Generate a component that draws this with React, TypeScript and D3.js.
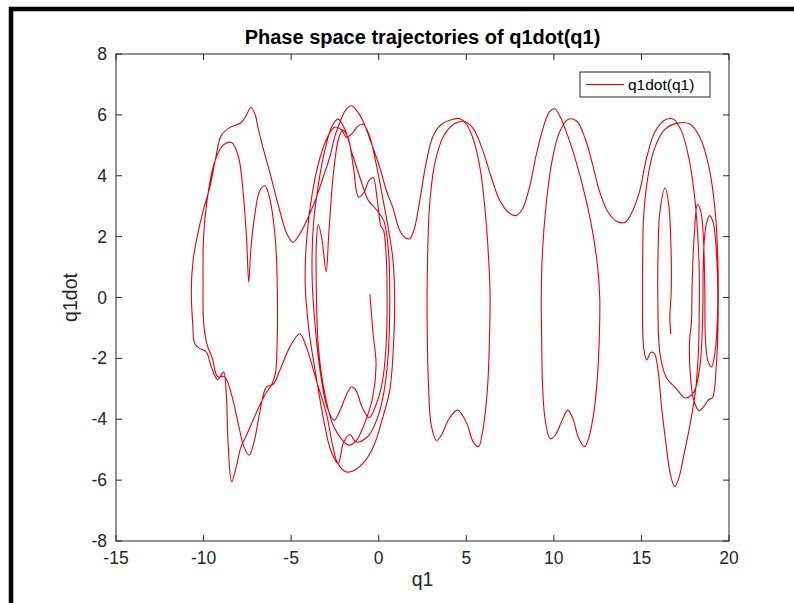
import React from 'react';
import * as d3 from 'd3';

const xTicks = [-15, -10, -5, 0, 5, 10, 15, 20];
const yTicks = [-8, -6, -4, -2, 0, 2, 4, 6, 8];
const seriesName = 'q1dot(q1)';
const chartTitle = 'Phase space trajectories of q1dot(q1)';
const xLabel = 'q1';
const yLabel = 'q1dot';

// trajectory pieces, [q1, q1dot], in time order
const clusterWell: number[][] = [
  [-0.5, 0.1], [-0.32, -1.2], [-0.15, -2.2], [-0.35, -3.3], [-0.85, -4.2], [-1.28, -4.7], [-1.7, -4.85], [-2.05, -4.7],
  [-2.6, -4.2], [-3.1, -3.1], [-3.45, -1.6], [-3.56, 0.2], [-3.56, 1.8], [-3.45, 2.4], [-3.25, 1.95], [-3.0, 0.85],
  [-2.85, 2.1], [-2.6, 4.0], [-2.3, 5.2], [-2.05, 5.5], [-1.75, 5.25], [-1.45, 4.3], [-1.15, 3.3], [-0.85, 3.45],
  [-0.55, 3.85], [-0.32, 3.94], [-0.08, 3.2], [0.12, 2.35], [0.28, 2.2], [0.42, 1.4], [0.48, 0], [0.42, -1.6],
  [0.2, -2.8], [-0.2, -3.6], [-0.55, -3.95], [-0.95, -3.6], [-1.3, -3.05], [-1.56, -2.94], [-1.85, -3.2], [-2.2, -3.7],
  [-2.55, -4.03], [-2.95, -3.6], [-3.3, -2.6], [-3.62, -1.0], [-3.8, 0.6], [-3.74, 2.3], [-3.45, 3.7], [-3.05, 4.9],
  [-2.65, 5.65], [-2.32, 5.86], [-1.95, 5.55], [-1.5, 4.7], [-1.05, 3.9], [-0.6, 3.2], [-0.15, 2.9], [0.3, 2.5],
  [0.56, 1.5], [0.63, 0], [0.55, -1.8], [0.3, -3.1], [-0.1, -4.0], [-0.6, -4.55], [-1.28, -4.75], [-1.65, -4.5],
  [-2.0, -4.75], [-2.32, -5.45], [-2.75, -5.0], [-3.15, -4.0], [-3.6, -2.5], [-4.0, -1.0], [-4.2, 0.5], [-4.1, 2.0],
  [-3.8, 3.4], [-3.35, 4.6], [-2.9, 5.3], [-2.5, 5.6], [-2.12, 5.51], [-1.84, 5.26], [-1.5, 5.4], [-1.2, 5.62],
  [-0.9, 5.7], [-0.55, 5.35], [-0.15, 4.4], [0.25, 3.2], [0.6, 2.1], [0.82, 1.2], [0.91, 0], [0.85, -1.5],
  [0.63, -3.05], [0.2, -4.0], [-0.3, -4.9], [-0.9, -5.45], [-1.4, -5.68], [-1.84, -5.73], [-2.34, -5.45], [-2.65, -4.8],
];

const leftWell: number[][] = [
  [-2.99, -3.81], [-3.56, -2.72], [-4.13, -1.63], [-4.51, -1.19], [-5.08, -1.63], [-5.65, -2.4], [-6.03, -2.85],
  [-6.41, -2.94], [-6.8, -3.8], [-7.1, -4.7], [-7.4, -5.18], [-7.7, -4.9], [-8.0, -4.2], [-8.4, -3.2], [-8.8, -2.6],
  [-9.2, -2.6], [-9.5, -2.0], [-9.8, -1.55], [-10.0, -0.8], [-10.03, 0.5], [-10.0, 2.0], [-9.8, 3.2], [-9.4, 4.4],
  [-8.9, 5.0], [-8.4, 5.09], [-8.0, 4.6], [-7.75, 3.5], [-7.55, 2.0], [-7.42, 0.5], [-7.3, 1.6], [-7.08, 2.7],
  [-6.8, 3.5], [-6.5, 3.67], [-6.2, 3.2], [-5.95, 2.2], [-5.84, 1.32], [-5.78, -0.3], [-5.8, -1.5], [-5.9, -2.5],
  [-6.1, -2.85], [-6.5, -3.2], [-7.0, -3.8], [-7.5, -4.46], [-7.86, -4.9], [-8.15, -5.6], [-8.4, -6.05], [-8.6, -4.8],
  [-8.7, -3.2], [-8.85, -2.45], [-9.0, -2.55], [-9.2, -2.7], [-9.56, -2.28], [-9.84, -1.79], [-10.2, -1.68],
  [-10.5, -1.52], [-10.62, -0.86], [-10.7, 0.3], [-10.6, 1.2], [-10.4, 1.9], [-10.0, 2.9], [-9.65, 3.6], [-9.3, 4.6],
  [-9.0, 5.31], [-8.51, 5.58], [-7.85, 5.75], [-7.55, 6.0], [-7.3, 6.24], [-7.05, 6.0], [-6.9, 5.6], [-6.55, 4.8],
  [-6.2, 4.07], [-5.65, 2.85], [-5.25, 2.1], [-4.9, 1.81],
];

const rotationPass: number[][] = [
  [-4.55, 2.05], [-4.3, 2.3], [-3.9, 2.8], [-3.56, 3.29], [-3.2, 3.9], [-2.8, 4.6], [-2.5, 5.3], [-2.22, 5.75],
  [-1.9, 6.15], [-1.56, 6.3], [-1.2, 6.1], [-0.9, 5.8], [-0.5, 5.2], [0.06, 4.27], [0.45, 3.5], [0.8, 2.96],
  [1.2, 2.2], [1.5, 1.97], [1.77, 1.93],
];

const well5: number[][] = [
  [2.05, 2.3], [2.35, 3.2], [2.7, 4.4], [3.1, 5.3], [3.6, 5.7], [4.2, 5.85], [4.6, 5.88], [5.0, 5.7], [5.4, 5.2],
  [5.8, 4.2], [6.1, 2.7], [6.3, 1.0], [6.36, 0], [6.33, -1.2], [6.25, -2.6], [6.1, -3.7], [5.9, -4.5], [5.7, -4.9],
  [5.4, -4.75], [5.0, -4.1], [4.5, -3.7], [4.0, -4.0], [3.6, -4.5], [3.3, -4.7], [3.0, -4.2], [2.85, -3.0],
  [2.78, -1.5], [2.76, 0], [2.8, 1.5], [2.9, 3.0], [3.2, 4.4], [3.7, 5.3], [4.3, 5.7], [4.9, 5.78], [5.4, 5.55],
  [5.9, 4.9], [6.4, 4.0], [6.9, 3.2], [7.4, 2.8], [7.82, 2.69],
];

const well10: number[][] = [
  [8.2, 2.9], [8.6, 3.6], [9.0, 4.7], [9.4, 5.6], [9.75, 6.1], [10.05, 6.2], [10.35, 5.95], [10.8, 5.3], [11.3, 4.4],
  [11.8, 3.3], [12.2, 2.2], [12.5, 1.0], [12.62, 0], [12.6, -1.2], [12.5, -2.5], [12.3, -3.7], [12.0, -4.6],
  [11.75, -4.9], [11.4, -4.6], [11.1, -4.0], [10.8, -3.7], [10.5, -4.0], [10.1, -4.5], [9.8, -4.65], [9.5, -4.0],
  [9.35, -2.8], [9.3, -1.2], [9.28, 0], [9.35, 1.5], [9.55, 3.0], [9.9, 4.5], [10.3, 5.4], [10.8, 5.85], [11.3, 5.8],
  [11.8, 5.2], [12.2, 4.4], [12.6, 3.5], [13.1, 2.8], [13.6, 2.5], [14.07, 2.47],
];

const well17: number[][] = [
  [14.5, 2.85], [14.9, 3.5], [15.3, 4.6], [15.8, 5.48], [16.4, 5.85], [16.85, 5.85], [17.3, 5.45], [17.7, 4.6],
  [18.0, 3.5], [18.2, 2.2], [18.3, 0.8], [18.3, -0.6], [18.25, -1.8], [18.1, -3.0], [17.8, -4.1], [17.45, -5.1],
  [17.15, -5.9], [16.9, -6.22], [16.65, -5.8], [16.4, -4.8], [16.15, -3.6], [15.95, -2.4], [15.75, -1.85],
  [15.55, -1.8], [15.3, -2.05], [15.12, -1.6], [15.06, -0.3], [15.07, 1.2], [15.12, 2.6], [15.35, 3.9], [15.75, 4.9],
  [16.3, 5.5], [17.0, 5.72], [17.77, 5.7], [18.35, 5.25], [18.85, 4.3], [19.2, 2.9], [19.36, 1.3], [19.38, -0.6],
  [19.28, -2.2], [19.05, -3.3], [18.85, -3.35], [18.6, -3.55], [18.3, -3.72], [18.0, -3.4], [17.8, -2.6],
  [17.75, -1.4], [17.85, -0.85], [17.9, 0.5], [18.0, 1.9], [18.2, 3.05], [18.4, 2.8], [18.55, 1.8], [18.62, 0.2],
  [18.65, -1.3], [18.8, -2.1], [19.0, -2.28], [19.2, -1.8], [19.35, -0.4], [19.3, 1.3], [19.1, 2.45], [18.9, 2.69],
  [18.7, 2.4], [18.55, 1.5], [18.5, -0.5], [18.35, -2.2], [18.0, -3.1], [17.5, -3.3], [17.0, -3.0], [16.4, -2.6],
  [16.05, -1.8], [15.94, -0.2], [15.95, 1.5], [16.05, 2.8], [16.35, 3.6], [16.55, 3.1], [16.68, 1.8], [16.7, 0.2],
  [16.62, -0.65], [16.68, -1.2],
];

const trajectory = [...clusterWell, ...leftWell, ...rotationPass, ...well5, ...well10, ...well17];

export default function App() {
  const W = 794, H = 603;
  const L = 116, R = 729, T = 54, B = 541;
  const x = d3.scaleLinear().domain([-15, 20]).range([L, R]);
  const y = d3.scaleLinear().domain([-8, 8]).range([B, T]);
  const line = d3.line<number[]>().x(d => x(d[0])).y(d => y(d[1])).curve(d3.curveCatmullRom.alpha(0.5));
  const axisColor = '#262626';
  const font = '"Liberation Sans", Arial, Helvetica, sans-serif';
  const tick = 6;
  const tickFont = 17.5;
  return (
    <svg width={W} height={H} style={{ position: 'absolute', left: 0, top: 0, background: '#fff' }} fontFamily={font}>
      <rect x={0} y={0} width={W} height={H} fill="#fff" />
      <rect x={11} y={9} width={820} height={640} fill="none" stroke="#000" strokeWidth={4.5} />
      <defs>
        <clipPath id="plotclip"><rect x={L} y={T} width={R - L} height={B - T} /></clipPath>
      </defs>
      <path d={line(trajectory) || ''} fill="none" stroke="#e8000b" strokeWidth={1.1} clipPath="url(#plotclip)" />
      <rect x={L} y={T} width={R - L} height={B - T} fill="none" stroke={axisColor} strokeWidth={1} />
      {xTicks.map(t => (
        <g key={'x' + t}>
          <line x1={x(t)} x2={x(t)} y1={B} y2={B - tick} stroke={axisColor} />
          <line x1={x(t)} x2={x(t)} y1={T} y2={T + tick} stroke={axisColor} />
          <text x={x(t)} y={B + 23} textAnchor="middle" fontSize={tickFont} fill={axisColor}>{t}</text>
        </g>
      ))}
      {yTicks.map(t => (
        <g key={'y' + t}>
          <line x1={L} x2={L + tick} y1={y(t)} y2={y(t)} stroke={axisColor} />
          <line x1={R} x2={R - tick} y1={y(t)} y2={y(t)} stroke={axisColor} />
          <text x={L - 9} y={y(t) + 6} textAnchor="end" fontSize={tickFont} fill={axisColor}>{t}</text>
        </g>
      ))}
      <text x={(L + R) / 2} y={44} textAnchor="middle" fontSize={20} fontWeight="bold" fill="#000">{chartTitle}</text>
      <text x={(L + R) / 2} y={586} textAnchor="middle" fontSize={19.5} fill={axisColor}>{xLabel}</text>
      <text transform={`translate(77,${(T + B) / 2}) rotate(-90)`} textAnchor="middle" fontSize={19.5} fill={axisColor}>{yLabel}</text>
      <g>
        <rect x={580} y={72} width={130} height={25} fill="#fff" stroke={axisColor} strokeWidth={1} />
        <line x1={586} x2={624} y1={84.5} y2={84.5} stroke="#e8000b" strokeWidth={1.1} />
        <text x={628} y={90} fontSize={15.5} fill="#000">{seriesName}</text>
      </g>
    </svg>
  );
}
